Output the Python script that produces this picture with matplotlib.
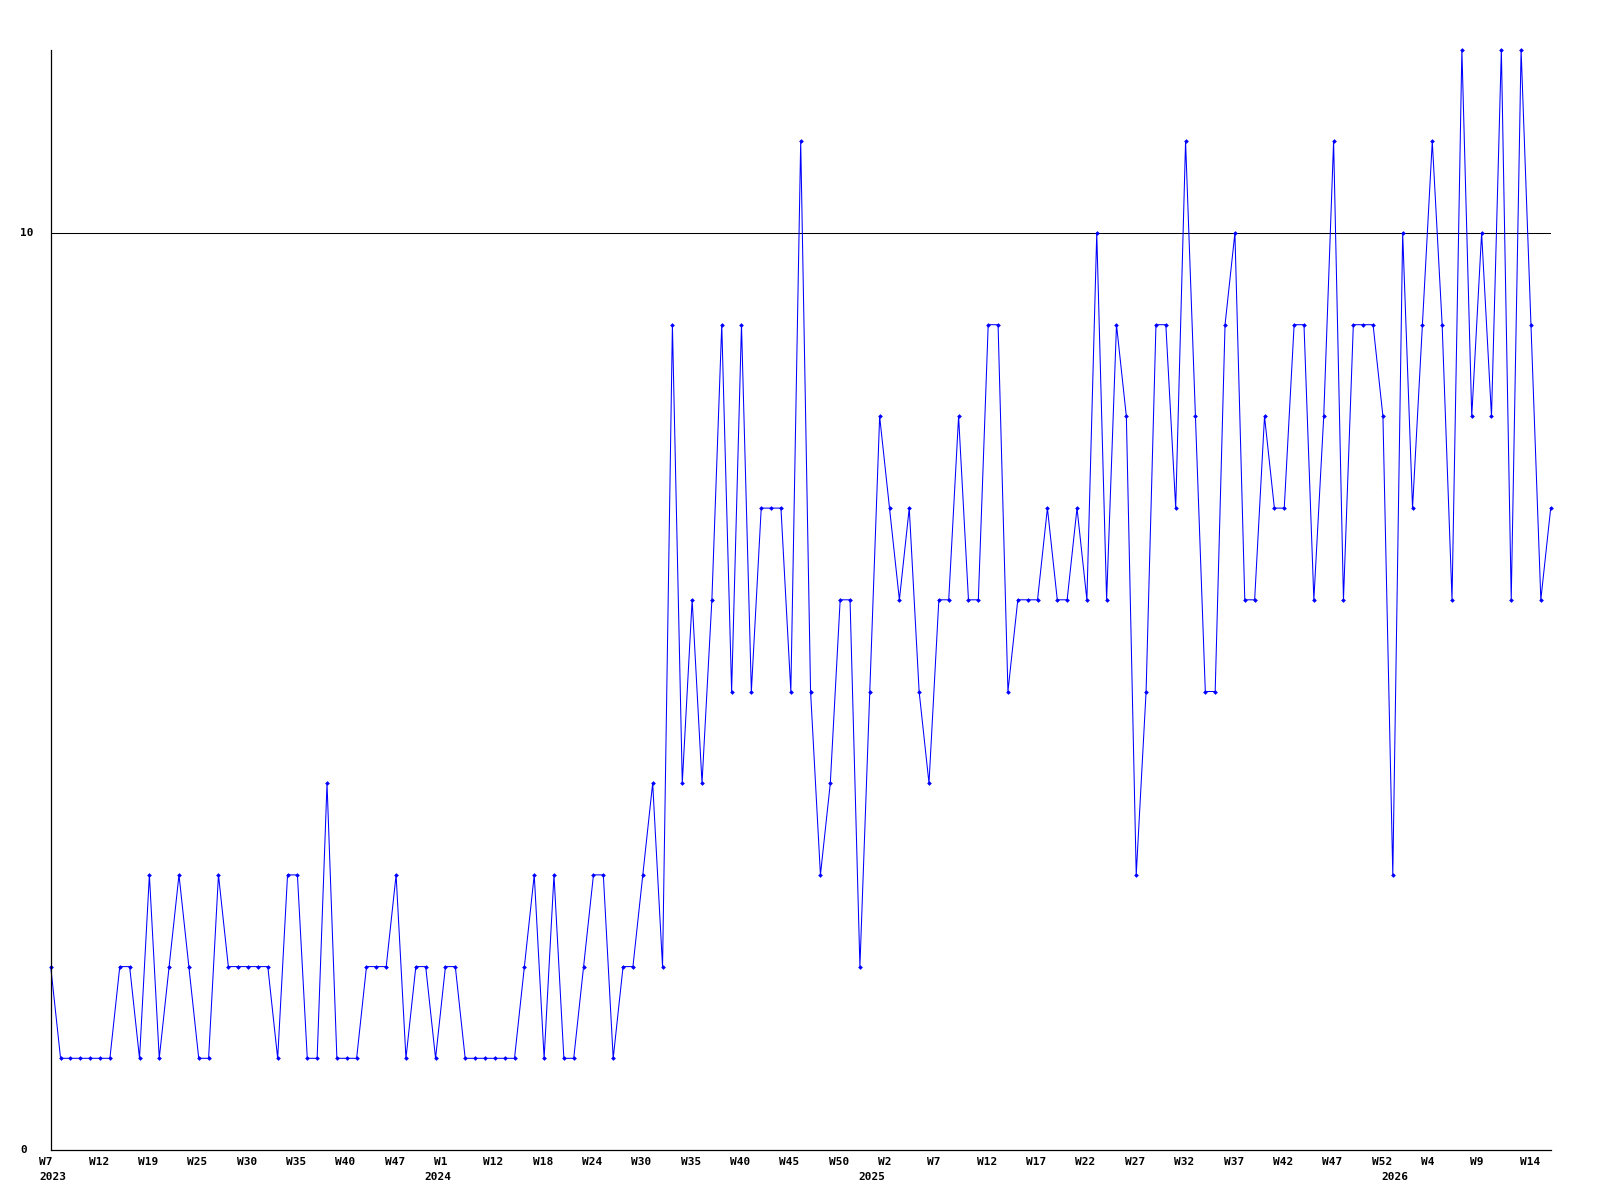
import numpy as np
import matplotlib
matplotlib.use("Agg")
import matplotlib.pyplot as plt
import matplotlib.transforms as mtransforms

# weekly counts, one point per slot
values = [
    2, 1, 1, 1, 1, 1, 1, 2, 2, 1, 3, 1, 2, 3, 2, 1, 1, 3, 2,
    2, 2, 2, 2, 1, 3, 3, 1, 1, 4, 1, 1, 1, 2, 2, 2, 3, 1, 2,
    2, 1, 2, 2, 1, 1, 1, 1, 1, 1, 2, 3, 1, 3, 1, 1, 2, 3, 3,
    1, 2, 2, 3, 4, 2, 9, 4, 6, 4, 6, 9, 5, 9, 5, 7, 7, 7, 5, 11,
    5, 3, 4, 6, 6, 2, 5, 8, 7, 6, 7, 5, 4, 6, 6, 8, 6, 6, 9,
    9, 5, 6, 6, 6, 7, 6, 6, 7, 6, 10, 6, 9, 8, 3, 5, 9, 9, 7,
    11, 8, 5, 5, 9, 10, 6, 6, 8, 7, 7, 9, 9, 6, 8, 11, 6, 9, 9,
    9, 8, 3, 10, 7, 9, 11, 9, 6, 12, 8, 10, 8, 12, 6, 12, 9, 6, 7,
]

week_labels = ["W7", "W12", "W19", "W25", "W30", "W35", "W40", "W47",
               "W1", "W12", "W18", "W24", "W30", "W35", "W40", "W45",
               "W50", "W2", "W7", "W12", "W17", "W22", "W27", "W32",
               "W37", "W42", "W47", "W52", "W4", "W9", "W14"]
label_step = 5

year_labels = ["2023", "2024", "2025", "2026"]
year_label_pos = [0, 39, 83, 136]

y_ticks = [0, 10]

W, H = 1600, 1200
fig = plt.figure(figsize=(W / 100, H / 100), dpi=100)
ax = fig.add_axes([50.7 / W, 50 / H, 1500 / W, 1100.4 / H])

x = np.arange(len(values))
ax.plot(x, values, color="#0000ff", linewidth=0.75, marker="D",
        markersize=2.4, markeredgewidth=0, clip_on=False)
ax.axhline(10, color="black", linewidth=0.75, zorder=1)

ax.set_xlim(0, len(values) - 1)
ax.set_ylim(0, 12)
for side in ("top", "right"):
    ax.spines[side].set_visible(False)
for side in ("left", "bottom"):
    ax.spines[side].set_linewidth(0.9)
    ax.spines[side].set_color("black")
ax.set_xticks([])
ax.set_yticks([])

font = dict(family="DejaVu Sans Mono", weight="bold", size=8, color="black")

# x labels: left aligned a bit before their point
base = mtransforms.blended_transform_factory(ax.transData, ax.transAxes)
week_tr = mtransforms.offset_copy(base, fig=fig, x=-11.4, y=-7, units="dots")
year_tr = mtransforms.offset_copy(base, fig=fig, x=-11.4, y=-21.5, units="dots")
for i, lab in enumerate(week_labels):
    ax.text(i * label_step, 0, lab, transform=week_tr, ha="left", va="top",
            clip_on=False, **font)
for pos, lab in zip(year_label_pos, year_labels):
    ax.text(pos, 0, lab, transform=year_tr, ha="left", va="top",
            clip_on=False, **font)

# y labels at the far left
ytr = mtransforms.blended_transform_factory(fig.transFigure, ax.transData)
for v in y_ticks:
    ax.text(20 / W, v, str(v), transform=ytr, ha="left", va="center",
            clip_on=False, **font)

fig.savefig("out.png", dpi=100)
